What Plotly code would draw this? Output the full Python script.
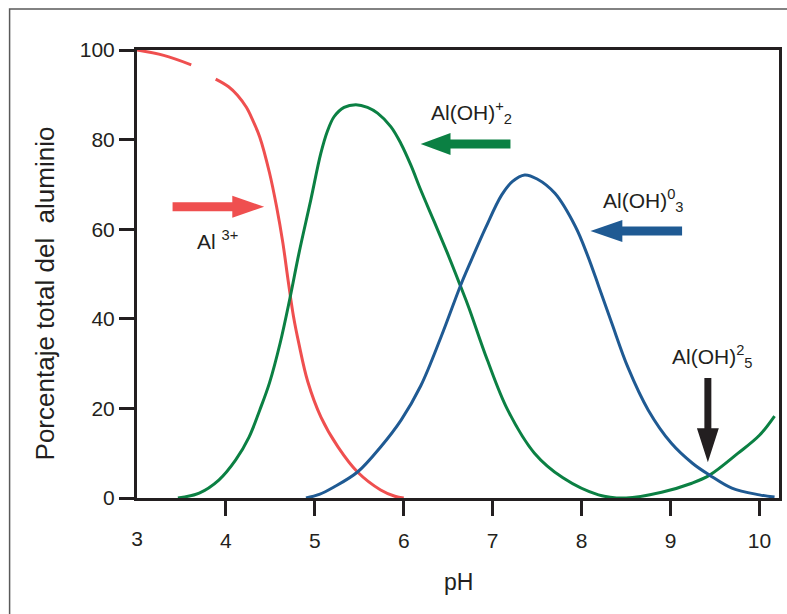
import plotly.graph_objects as go

# ---------------- data ----------------
ph_ticks = [3, 4, 5, 6, 7, 8, 9, 10]
pct_ticks = [0, 20, 40, 60, 80, 100]

al3_ph = [3.0, 3.3, 3.61, None, 3.885, 4.03, 4.13, 4.23, 4.3, 4.38, 4.49, 4.57, 4.64,
          4.7, 4.76, 4.82, 4.92, 5.07, 5.26, 5.48, 5.74, 5.9, 6.0]
al3_pct = [100, 98.8, 96.7, None, 93.5, 91.8, 89.9, 87.2, 84.4, 80.6, 72.6, 65.0, 57.0,
           48.5, 40.5, 34.5, 26.0, 18.0, 11.4, 5.8, 1.8, 0.4, 0]

aloh2_ph = [3.46, 3.7, 3.92, 4.11, 4.26, 4.38, 4.49, 4.61, 4.72, 4.82, 4.954, 5.067,
            5.14, 5.216, 5.329, 5.461, 5.592, 5.705, 5.854, 5.966, 6.08, 6.19, 6.34,
            6.49, 6.64, 6.73, 6.94, 7.17, 7.47, 7.79, 8.19, 8.5, 8.9, 9.24, 9.44, 9.76,
            10.0, 10.17]
aloh2_pct = [0, 1.1, 4.0, 8.5, 13.6, 19.6, 25.7, 34.6, 44.6, 54.5, 66.5, 76.9,
             81.8, 85.1, 87.2, 87.8, 87.2, 85.9, 82.9, 79.2, 74.3, 68.8, 61.8,
             54.7, 47.2, 42.6, 30.8, 19.6, 10.0, 4.5, 0.7, 0.0, 1.3, 3.3, 5.1, 10.0,
             14.0, 18.3]

aloh3_ph = [4.9, 5.05, 5.21, 5.48, 5.74, 5.97, 6.19, 6.42, 6.64, 6.76, 6.92, 7.1,
            7.22, 7.36, 7.5, 7.7, 7.93, 8.07, 8.19, 8.34, 8.52, 8.75, 9.01, 9.25, 9.44,
            9.69, 10.0, 10.17]
aloh3_pct = [0, 0.8, 2.4, 5.8, 11.4, 17.4, 25.0, 36.0, 47.5, 53.1, 60.3, 67.6,
             70.6, 72.1, 71.2, 68.0, 60.6, 54.0, 47.4, 39.0, 29.2, 19.6, 12.2, 7.7, 5.1,
             2.2, 0.7, 0.2]

# ---------------- styling ----------------
RED = "#EF4F4F"
GREEN = "#0B8043"
BLUE = "#1F5A93"
INK = "#231F20"
FONT = "Liberation Sans, Arial, sans-serif"

X_RANGE = [3, 10.22]
Y_RANGE = [0, 100]
L, R, T, B = 137, 5, 50, 116
W, H = 787, 614
PW, PH = W - L - R, H - T - B
KX = PW / (X_RANGE[1] - X_RANGE[0])   # px per pH unit
KY = PH / (Y_RANGE[1] - Y_RANGE[0])   # px per percent


def h_arrow(x_tail, x_tip, y, head_len=32, head_half=11, shaft_half=4.5):
    d = 1 if x_tip > x_tail else -1
    xb = x_tip - d * head_len / KX
    sh, hh = shaft_half / KY, head_half / KY
    return (f"M {x_tail},{y - sh} L {xb},{y - sh} L {xb},{y - hh} L {x_tip},{y} "
            f"L {xb},{y + hh} L {xb},{y + sh} L {x_tail},{y + sh} Z")


def v_arrow(x, y_tail, y_tip, head_len=34, head_half=11, shaft_half=3.5):
    d = 1 if y_tip > y_tail else -1
    yb = y_tip - d * head_len / KY
    sh, hh = shaft_half / KX, head_half / KX
    return (f"M {x - sh},{y_tail} L {x - sh},{yb} L {x - hh},{yb} L {x},{y_tip} "
            f"L {x + hh},{yb} L {x + sh},{yb} L {x + sh},{y_tail} Z")


fig = go.Figure()
line_kw = dict(width=3, shape="spline", smoothing=1.0)
fig.add_trace(go.Scatter(x=al3_ph, y=al3_pct, mode="lines", line=dict(color=RED, **line_kw),
                         connectgaps=False, hoverinfo="skip"))
fig.add_trace(go.Scatter(x=aloh2_ph, y=aloh2_pct, mode="lines", line=dict(color=GREEN, **line_kw),
                         hoverinfo="skip"))
fig.add_trace(go.Scatter(x=aloh3_ph, y=aloh3_pct, mode="lines", line=dict(color=BLUE, **line_kw),
                         hoverinfo="skip"))
# invisible helper trace for the secondary x axis (label "3" without a tick mark)
fig.add_trace(go.Scatter(x=[None], y=[None], xaxis="x2", showlegend=False, hoverinfo="skip"))

axis_common = dict(showgrid=False, zeroline=False, showline=True, linecolor=INK, linewidth=3,
                   mirror=True, ticks="outside", ticklen=15, tickwidth=3, tickcolor=INK,
                   tickfont=dict(family=FONT, size=21, color=INK))

fig.update_layout(
    width=W, height=H,
    margin=dict(l=L, r=R, t=T, b=B),
    paper_bgcolor="white", plot_bgcolor="white",
    showlegend=False,
    xaxis=dict(range=X_RANGE, tickvals=ph_ticks[1:], ticktext=[str(v) for v in ph_ticks[1:]],
               ticklabelstandoff=7, **axis_common),
    xaxis2=dict(range=X_RANGE, overlaying="x", side="bottom", showgrid=False, zeroline=False,
                showline=False, ticks="outside", ticklen=15, tickwidth=3,
                tickcolor="rgba(0,0,0,0)", tickvals=ph_ticks[:1],
                ticktext=[str(v) for v in ph_ticks[:1]], ticklabelstandoff=7,
                tickfont=dict(family=FONT, size=21, color=INK)),
    yaxis=dict(range=Y_RANGE, tickvals=pct_ticks, ticktext=[str(v) for v in pct_ticks],
               **axis_common),
)

ann_font = dict(family=FONT, size=21, color=INK)
fig.update_layout(annotations=[
    dict(text="Porcentaje total del  aluminio", textangle=-90, xref="paper", yref="paper",
         x=(45 - L) / PW, y=(T + PH - 293) / PH, xanchor="center", yanchor="middle",
         showarrow=False, font=dict(family=FONT, size=26, color=INK)),
    dict(text="pH", xref="paper", yref="paper", x=0.5, y=(T + PH - 582) / PH,
         xanchor="center", yanchor="middle", showarrow=False,
         font=dict(family=FONT, size=23, color=INK)),
    dict(text="Al <sup>3+</sup>", x=3.65, y=57.6, xanchor="left", yanchor="middle",
         showarrow=False, font=ann_font),
    dict(text="Al(OH)<sup>+</sup><sub>2</sub>", x=6.28, y=86.0, xanchor="left",
         yanchor="middle", showarrow=False, font=ann_font),
    dict(text="Al(OH)<sup>0</sup><sub>3</sub>", x=8.22, y=66.5, xanchor="left",
         yanchor="middle", showarrow=False, font=ann_font),
    dict(text="Al(OH)<sup>2</sup><sub>5</sub>", x=8.99, y=31.5, xanchor="left",
         yanchor="middle", showarrow=False, font=ann_font),
])

shapes = [
    # outer frame of the figure
    dict(type="rect", xref="paper", yref="paper", x0=(9 - L) / PW, x1=1.5,
         y0=-0.6, y1=1 + (T - 9) / PH, line=dict(color="#5a5a5a", width=1.5),
         fillcolor="rgba(0,0,0,0)", layer="below"),
    dict(type="path", xref="x", yref="y", path=h_arrow(3.40, 4.43, 65.0),
         fillcolor=RED, line=dict(width=0)),
    dict(type="path", xref="x", yref="y", path=h_arrow(7.20, 6.19, 79.0, head_len=30),
         fillcolor=GREEN, line=dict(width=0)),
    dict(type="path", xref="x", yref="y", path=h_arrow(9.13, 8.10, 59.6),
         fillcolor=BLUE, line=dict(width=0)),
    dict(type="path", xref="x", yref="y", path=v_arrow(9.42, 26.8, 8.0),
         fillcolor=INK, line=dict(width=0)),
]
fig.update_layout(shapes=shapes)

fig.write_html("out.html", config={"displayModeBar": False},
               post_script="document.body.style.margin='0';document.body.style.overflow='hidden';")
